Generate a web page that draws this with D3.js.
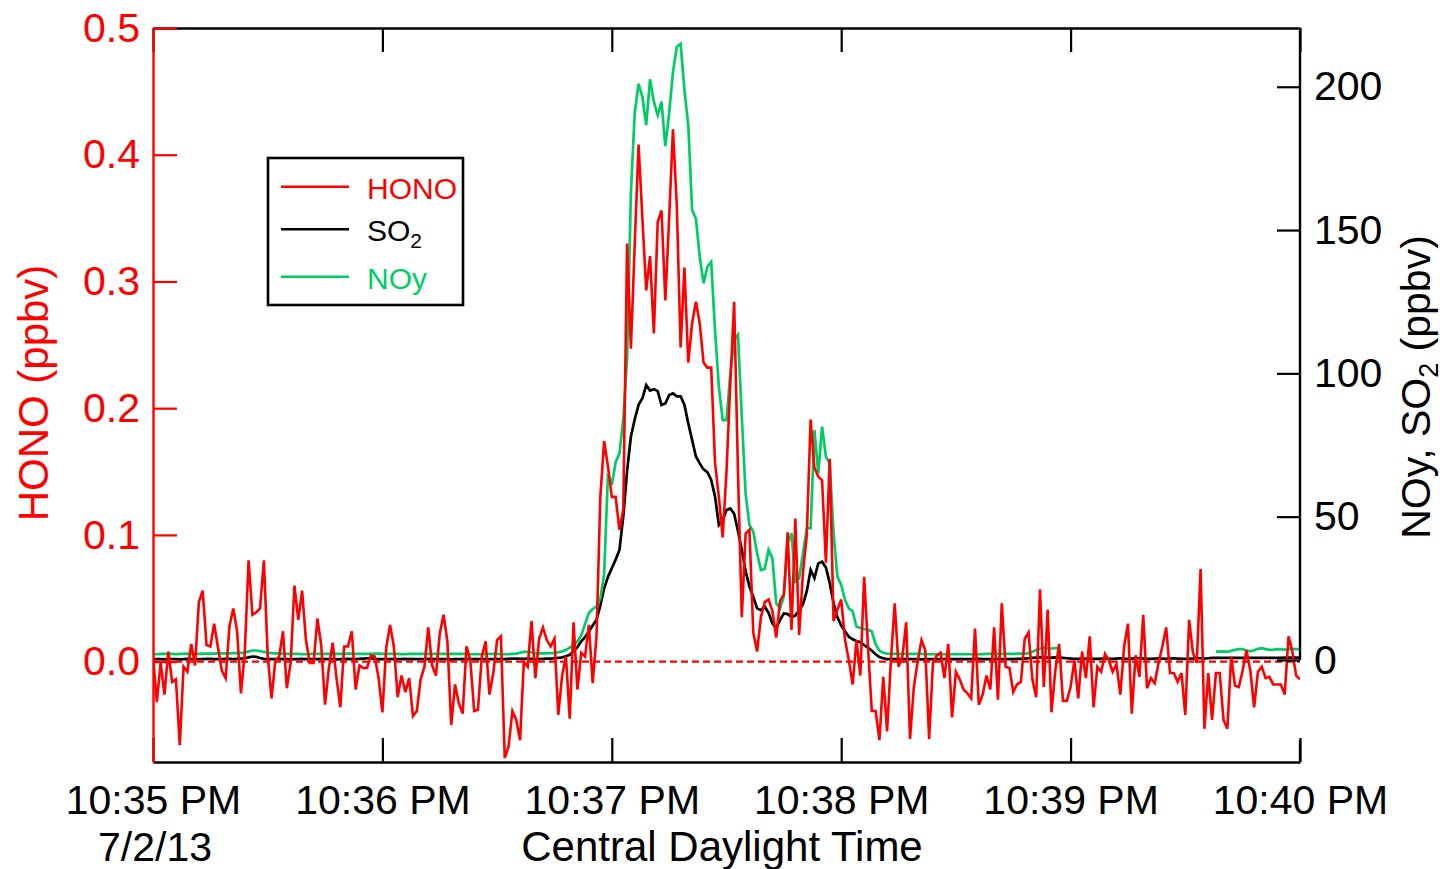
<!DOCTYPE html>
<html>
<head>
<meta charset="utf-8">
<script src="https://cdn.jsdelivr.net/npm/d3@7"></script>
<style>
  body { margin: 0; background: #fff; }
  svg { display: block; }
  text { font-family: "Liberation Sans", Arial, sans-serif; }
</style>
</head>
<body>
<svg id="chart" width="1445" height="869"></svg>
<script>
// 1 Hz samples starting at 10:35:00 PM CDT, 7/2/13
const startTime = new Date(2013, 6, 2, 22, 35, 0);

// HONO (ppbv), left axis
const hono = [
  0.004,-0.032,-0.001,-0.026,0.008,-0.016,-0.014,-0.066,-0.004,-0.008,
  0.014,-0.003,0.047,0.056,0.013,0.012,0.030,0.011,-0.007,-0.013,
  0.028,0.042,0.024,-0.025,0.007,0.080,0.037,0.039,0.042,0.080,
  0.005,-0.029,0.001,0.004,0.024,-0.021,-0.001,0.060,0.033,0.056,
  0.017,-0.001,-0.001,0.034,0.013,-0.034,-0.005,0.015,-0.013,-0.036,
  0.012,0.012,0.024,-0.022,-0.003,-0.005,-0.005,0.005,0.004,-0.013,
  -0.040,0.011,0.029,0.012,-0.028,-0.011,-0.024,-0.013,-0.043,-0.039,
  -0.014,-0.004,0.027,-0.003,-0.011,0.022,0.037,0.016,-0.050,-0.018,
  -0.033,-0.041,0.012,0.001,-0.039,-0.038,0.004,0.016,-0.026,-0.009,
  0.017,0.020,-0.076,-0.067,-0.039,-0.046,-0.062,0.000,-0.004,0.032,
  -0.013,0.018,0.027,0.017,0.012,0.018,-0.042,-0.011,0.004,-0.045,
  0.031,-0.022,0.007,0.004,0.029,-0.017,0.020,0.130,0.174,0.154,
  0.130,0.130,0.104,0.120,0.330,0.247,0.330,0.408,0.350,0.293,
  0.320,0.259,0.347,0.356,0.285,0.350,0.420,0.360,0.248,0.311,
  0.236,0.267,0.284,0.267,0.236,0.232,0.232,0.157,0.130,0.098,
  0.150,0.220,0.284,0.150,0.035,0.101,0.104,0.023,0.008,0.035,
  0.047,0.049,0.040,0.019,0.048,0.053,0.102,0.025,0.113,0.021,
  0.070,0.100,0.191,0.153,0.146,0.143,0.078,0.160,0.032,0.041,
  0.049,0.017,0.001,-0.018,0.017,-0.011,0.067,0.012,-0.039,-0.039,
  -0.062,-0.012,-0.055,0.001,0.046,-0.004,0.004,0.031,-0.061,-0.020,
  0.000,0.017,0.009,-0.061,-0.001,0.005,0.007,-0.013,0.014,-0.044,
  -0.008,-0.014,-0.022,-0.025,-0.029,0.026,-0.034,-0.026,-0.011,-0.022,
  0.027,-0.030,0.046,-0.004,-0.005,-0.024,-0.018,-0.016,0.018,0.023,
  -0.014,-0.028,0.057,-0.020,0.041,-0.040,-0.007,0.014,-0.031,-0.031,
  -0.020,0.001,-0.029,0.008,-0.013,0.020,-0.036,-0.004,-0.008,0.006,
  0.001,-0.008,-0.002,-0.026,0.012,0.030,-0.041,0.005,-0.012,0.037,
  -0.021,-0.013,-0.017,-0.001,0.012,0.027,-0.009,-0.009,-0.016,-0.009,
  -0.042,0.033,0.007,-0.001,0.073,-0.053,-0.009,-0.046,-0.009,-0.009,
  -0.046,-0.053,0.004,-0.019,-0.020,-0.007,0.009,-0.007,-0.036,-0.008,
  -0.004,-0.013,-0.012,-0.018,-0.018,-0.018,-0.026,0.020,0.008,-0.011,-0.014
];

// SO2 (ppbv), right axis
const so2 = [
  0.2,0.3,0.3,0.2,0.4,0.3,0.3,0.2,0.3,0.4,0.3,0.2,0.3,0.3,0.4,0.4,0.3,0.3,0.3,0.4,0.4,0.3,0.4,0.5,0.6,
  0.9,1.2,1.1,0.7,
  0.4,0.3,0.3,0.3,0.4,
  0.3,0.3,0.2,0.3,0.3,0.4,0.3,0.3,0.3,0.3,
  0.4,0.3,0.3,0.3,0.2,0.3,0.3,0.4,0.3,0.3,
  0.4,0.5,0.6,0.6,0.4,0.3,0.3,0.3,0.3,0.3,
  0.3,0.3,0.4,0.3,0.3,0.3,0.3,0.3,0.4,0.3,
  0.3,0.3,0.3,0.3,0.2,0.3,0.3,0.3,0.3,0.3,
  0.3,0.3,0.3,0.3,0.3,0.3,0.3,0.3,0.3,0.4,0.5,0.5,
  0.4,0.4,0.5,0.4,0.3,
  0.3,0.4,0.5,0.5,0.6,0.7,0.9,1.3,
  1.8,3.0,4.5,6.5,8.0,9.9,12,14,19,25,
  29,32,35,38.4,50,66,78,84,89,91.3,
  95.9,94,94.5,93.8,89,89.5,92.4,93,92,92,
  89,82.6,76.8,71,68.6,66.5,65.5,62.8,57,47.1,
  48.8,52.3,52.9,51,45,38.4,31,25.6,22,18,
  17.4,18.6,16.5,12.8,11.1,14,16.2,16,15,15.5,
  17.4,19.5,24,31.4,28.6,33.7,34.3,32.3,26.8,19.8,
  15,12,10,8.1,7.2,6.6,6.2,5.2,4.3,3.2,
  2.0,1.0,0.6,0.3,0.3,0.3,0.3,0.3,0.3,0.3,
  0.3,0.3,0.2,0.3,0.3,0.3,0.3,0.3,0.3,0.3,
  0.3,0.3,0.3,0.3,0.3,0.3,0.3,0.4,0.3,0.3,
  0.3,0.3,0.3,0.3,0.3,0.3,0.3,0.4,0.4,0.5,
  0.6,0.7,0.8,0.9,0.9,0.8,0.8,0.9,0.8,0.7,
  0.6,0.5,0.4,0.4,0.4,0.5,0.4,0.4,0.4,0.5,
  0.5,0.4,0.4,0.5,0.6,0.4,0.4,0.5,0.6,0.6,
  0.5,0.4,0.4,0.5,0.6,0.5,0.4,0.5,0.6,0.5,
  0.4,0.4,0.5,0.5,0.6,0.6,0.5,0.6,0.7,0.7,
  0.7,0.7,0.7,0.7,0.7,0.7,0.7,0.7,0.7,0.7,
  0.7,0.7,0.7,0.7,0.7,0.7,0.7,0.8,0.8,0.8,0.8,0.8
];

// NOy (ppbv), right axis; null marks missing samples
const noy = [
  2.0,2.0,2.1,2.1,2.1,2.1,2.0,2.1,2.1,2.2,2.1,2.1,2.1,2.2,2.2,2.2,2.2,2.3,2.3,2.3,2.3,2.4,2.4,2.5,2.6,
  3.0,3.3,3.3,3.1,
  2.8,2.6,2.4,2.3,2.2,
  2.2,2.1,2.1,2.1,2.1,2.0,2.0,2.1,2.1,2.1,
  2.1,2.1,2.1,2.1,2.1,2.1,2.1,2.2,2.2,2.1,
  2.1,2.1,2.1,2.1,2.2,2.2,2.1,2.1,2.1,2.1,
  2.1,2.0,2.0,2.1,2.1,2.1,2.1,2.1,2.1,2.1,
  2.1,2.1,2.1,2.1,2.1,2.1,2.1,2.1,2.1,2.0,
  2.0,2.0,2.0,2.1,2.1,2.1,2.1,2.0,2.0,2.0,2.1,2.2,
  2.5,2.8,2.8,2.6,2.4,
  2.3,2.3,2.4,2.4,2.5,2.7,3.0,3.5,
  4.3,5.2,6.5,8.5,12.5,16.4,17.8,18.6,21.5,30,
  65,61,69,72,84,105,163,191,201,196.5,
  186.6,202.6,194.8,190.1,194.8,179.3,190.7,205.2,214,215,
  198.8,186.6,157,154,140.7,131.4,137.2,138.9,115,95.4,
  83.7,83.7,100,111.6,113.4,85,58,47.1,44.8,37.3,
  31.4,31.8,38.4,35.5,19.8,18.1,22.1,40.7,44.2,27.3,
  28.5,37.2,45.9,46,80.2,65.1,81.4,70.9,68.6,44.2,
  29.1,26.2,20.9,18,17,11.6,11.2,10.8,10.5,9.9,
  5.5,3.2,2.5,2.2,2.1,2.1,2.1,2.1,2.1,2.1,
  2.1,2.1,2.1,2.0,2.0,2.0,2.0,2.0,2.0,2.0,
  2.0,2.0,2.0,2.0,2.0,2.0,2.0,2.0,2.0,2.1,
  2.1,2.1,2.1,2.1,2.1,2.1,2.1,2.2,2.2,2.2,
  2.4,2.9,3.5,4.0,4.3,4.1,4.0,4.1,4.1,
  null,null,null,null,null,null,null,null,null,null,
  null,null,null,null,null,null,null,null,null,null,
  null,null,null,null,null,null,null,null,null,null,
  null,null,null,null,null,null,null,null,null,null,
  2.9,2.9,3.0,2.8,3.2,3.5,3.8,3.8,3.3,3.0,3.4,3.9,4.1,3.8,3.5,3.6,3.8,3.7,3.6,3.8,3.9,3.8,3.8
];

const honoTicks = [0, 0.1, 0.2, 0.3, 0.4, 0.5];
const ppbvTicks = [0, 50, 100, 150, 200];
const legendItems = [
  { name: "HONO", sub: "", color: "#ff0000" },
  { name: "SO", sub: "2", color: "#000000" },
  { name: "NOy", sub: "", color: "#00cc66" }
];

const RED = "#ff0000", GREEN = "#00cc66", BLACK = "#000000";
const plot = { left: 153, right: 1300, top: 28, bottom: 762 };
const svg = d3.select("#chart");

const times = hono.map((_, i) => new Date(startTime.getTime() + i * 1000));
const x = d3.scaleTime().domain([startTime, times[times.length - 1]]).range([plot.left, plot.right]);
const yL = d3.scaleLinear().domain([-0.0792, 0.5]).range([plot.bottom, plot.top]);
const yR = d3.scaleLinear().domain([-35.6, 220.5]).range([plot.bottom, plot.top]);

svg.append("clipPath").attr("id", "plotArea").append("rect")
  .attr("x", plot.left).attr("y", plot.top)
  .attr("width", plot.right - plot.left).attr("height", plot.bottom - plot.top);

const traces = svg.append("g").attr("clip-path", "url(#plotArea)");

const lineR = d3.line().defined(d => d.v != null).x(d => x(d.t)).y(d => yR(d.v));
const lineL = d3.line().defined(d => d.v != null).x(d => x(d.t)).y(d => yL(d.v));
const pack = arr => arr.map((v, i) => ({ t: times[i], v }));

// SO2
traces.append("path").datum(pack(so2)).attr("d", lineR)
  .attr("fill", "none").attr("stroke", BLACK).attr("stroke-width", 2.7);

// HONO zero reference
traces.append("line")
  .attr("x1", plot.left).attr("x2", plot.right)
  .attr("y1", yL(0)).attr("y2", yL(0))
  .attr("stroke", RED).attr("stroke-width", 2.3).attr("stroke-dasharray", "7,4");

// NOy
traces.append("path").datum(pack(noy)).attr("d", lineR)
  .attr("fill", "none").attr("stroke", GREEN).attr("stroke-width", 2.7);

// HONO
traces.append("path").datum(pack(hono)).attr("d", lineL)
  .attr("fill", "none").attr("stroke", RED).attr("stroke-width", 2.6);

// Axes
const fmtTime = d3.timeFormat("%-I:%M %p");

const gBottom = svg.append("g").attr("transform", `translate(0,${plot.bottom})`)
  .call(d3.axisBottom(x).ticks(d3.timeMinute.every(1)).tickSize(-24).tickSizeOuter(0)
    .tickPadding(23).tickFormat(fmtTime));
const gTop = svg.append("g").attr("transform", `translate(0,${plot.top})`)
  .call(d3.axisTop(x).ticks(d3.timeMinute.every(1)).tickSize(-24).tickSizeOuter(0)
    .tickFormat(() => ""));
[gBottom, gTop].forEach(g => {
  g.select(".domain").attr("stroke", BLACK).attr("stroke-width", 2.4);
  g.selectAll(".tick line").attr("stroke", BLACK).attr("stroke-width", 2.2);
  g.selectAll(".tick text").attr("fill", BLACK).attr("font-size", 41)
    .attr("font-family", '"Liberation Sans", Arial, sans-serif');
});

const gRight = svg.append("g").attr("transform", `translate(${plot.right},0)`)
  .call(d3.axisRight(yR).tickValues(ppbvTicks).tickSize(-23).tickSizeOuter(0).tickPadding(14));
gRight.select(".domain").remove();
gRight.selectAll(".tick line").attr("stroke", BLACK).attr("stroke-width", 2.2);
gRight.selectAll(".tick text").attr("fill", BLACK).attr("font-size", 41)
  .attr("font-family", '"Liberation Sans", Arial, sans-serif');
// right axis line, broken just below zero
[[yR.domain()[1], 0], [-27.9, yR.domain()[0]]].forEach(([a, b]) => {
  gRight.append("line").attr("x1", 0).attr("x2", 0)
    .attr("y1", yR(a)).attr("y2", yR(b))
    .attr("stroke", BLACK).attr("stroke-width", 2.4);
});

const gLeft = svg.append("g").attr("transform", `translate(${plot.left},0)`)
  .call(d3.axisLeft(yL).tickValues(honoTicks).tickSize(-24).tickSizeOuter(0).tickPadding(13)
    .tickFormat(d3.format(".1f")));
gLeft.select(".domain").attr("stroke", RED).attr("stroke-width", 2.4);
gLeft.selectAll(".tick line").attr("stroke", RED).attr("stroke-width", 2.2);
gLeft.selectAll(".tick text").attr("fill", RED).attr("font-size", 41)
  .attr("font-family", '"Liberation Sans", Arial, sans-serif');

// Axis titles
svg.append("text").attr("transform", "translate(48,393) rotate(-90)")
  .attr("text-anchor", "middle").attr("font-size", 42).attr("fill", RED)
  .text("HONO (ppbv)");

const rTitle = svg.append("text").attr("transform", "translate(1430,387) rotate(-90)")
  .attr("text-anchor", "middle").attr("font-size", 41).attr("fill", BLACK);
rTitle.append("tspan").text("NOy, SO");
rTitle.append("tspan").attr("font-size", 27).attr("dy", 8).text("2");
rTitle.append("tspan").attr("dy", -8).text(" (ppbv)");

svg.append("text").attr("x", 722).attr("y", 861).attr("text-anchor", "middle")
  .attr("font-size", 42).attr("fill", BLACK).text("Central Daylight Time");
svg.append("text").attr("x", x(startTime) + 2).attr("y", 861).attr("text-anchor", "middle")
  .attr("font-size", 41).attr("fill", BLACK).text(d3.timeFormat("%-m/%-d/%y")(startTime));

// Legend
const lg = svg.append("g").attr("transform", "translate(268,158)");
lg.append("rect").attr("width", 195).attr("height", 147)
  .attr("fill", "#fff").attr("stroke", BLACK).attr("stroke-width", 2.6);
const rowY = [28.7, 71.3, 118.7];
legendItems.forEach((d, i) => {
  const row = lg.append("g").attr("transform", `translate(0,${rowY[i]})`);
  row.append("line").attr("x1", 13).attr("x2", 81).attr("y1", 0).attr("y2", 0)
    .attr("stroke", d.color).attr("stroke-width", 2.6);
  const t = row.append("text").attr("x", 99).attr("y", 12)
    .attr("font-family", '"DejaVu Sans", sans-serif').attr("font-size", 30).attr("fill", d.color);
  t.append("tspan").text(d.name);
  if (d.sub) t.append("tspan").attr("font-size", 21).attr("dy", 7).text(d.sub);
});
</script>
</body>
</html>
